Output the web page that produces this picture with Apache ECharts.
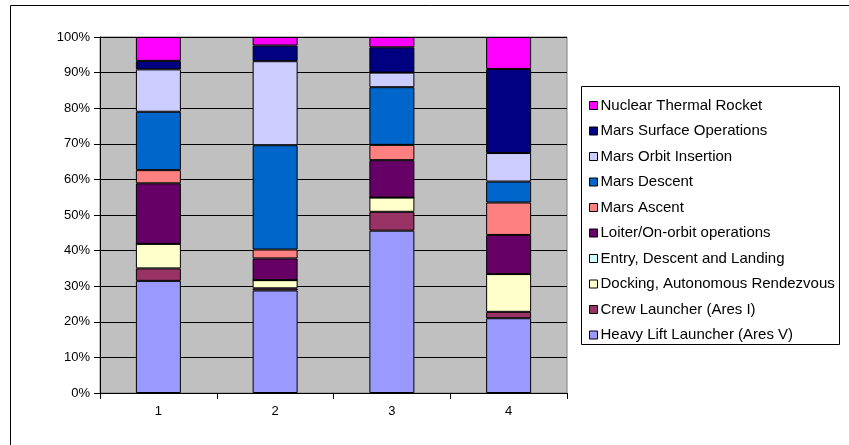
<!DOCTYPE html>
<html>
<head>
<meta charset="utf-8">
<script src="https://cdn.jsdelivr.net/npm/echarts@6/dist/echarts.min.js"></script>
<style>
  html, body { margin: 0; padding: 0; background: #fff; }
  #chart { width: 849px; height: 445px; }
</style>
</head>
<body>
<div id="chart"></div>
<script>
// Mission phases, 1..4, share of each technology area (percent)
const categories = ['1', '2', '3', '4'];

const heavyLift   = [31.5, 28.8, 45.6, 21.0];
const crewLaunch  = [3.5, 0.6, 5.3, 1.8];
const docking     = [6.9, 2.3, 4.0, 10.6];
const entryDescent = [0, 0, 0, 0];
const loiter      = [17.0, 6.1, 10.5, 11.0];
const marsAscent  = [3.7, 2.5, 4.3, 9.1];
const marsDescent = [16.4, 29.3, 16.2, 5.9];
const orbitInsert = [11.9, 23.6, 4.1, 8.0];
const surfaceOps  = [2.4, 4.4, 7.1, 23.6];
const nuclear     = [6.7, 2.4, 2.9, 9.0];

const yTicks = [0, 10, 20, 30, 40, 50, 60, 70, 80, 90, 100];

// stacked from the bottom up
const stackSeries = [
  { name: 'Heavy Lift Launcher (Ares V)', data: heavyLift, color: '#9999FF' },
  { name: 'Crew Launcher (Ares I)', data: crewLaunch, color: '#993366' },
  { name: 'Docking, Autonomous Rendezvous', data: docking, color: '#FFFFCC' },
  { name: 'Entry, Descent and Landing', data: entryDescent, color: '#CCFFFF' },
  { name: 'Loiter/On-orbit operations', data: loiter, color: '#660066' },
  { name: 'Mars Ascent', data: marsAscent, color: '#FF8080' },
  { name: 'Mars Descent', data: marsDescent, color: '#0066CC' },
  { name: 'Mars Orbit Insertion', data: orbitInsert, color: '#CCCCFF' },
  { name: 'Mars Surface Operations', data: surfaceOps, color: '#000080' },
  { name: 'Nuclear Thermal Rocket', data: nuclear, color: '#FF00FF' }
];

const chart = echarts.init(document.getElementById('chart'), null, { renderer: 'canvas' });

const font = 'Liberation Sans, Arial, sans-serif';

chart.setOption({
  animation: false,
  backgroundColor: '#ffffff',
  textStyle: { fontFamily: font },
  graphic: [
    // chart area frame
    { type: 'rect', silent: true, z: -10,
      shape: { x: 10.5, y: 5.5, width: 900, height: 500 },
      style: { fill: '#ffffff', stroke: '#000000', lineWidth: 1 } },
    // legend frame
    { type: 'rect', silent: true, z: 0,
      shape: { x: 581.5, y: 86.5, width: 258, height: 258 },
      style: { fill: '#ffffff', stroke: '#000000', lineWidth: 1 } }
  ],
  grid: {
    left: 100, top: 37, width: 467, height: 356,
    show: true, backgroundColor: '#C0C0C0', borderColor: '#808080', borderWidth: 1,
    containLabel: false
  },
  legend: {
    orient: 'vertical',
    left: 584, top: 92,
    itemWidth: 8, itemHeight: 8,
    itemGap: 8.5,
    icon: 'rect',
    data: stackSeries.slice().reverse().map(s => s.name),
    itemStyle: { borderColor: '#000', borderWidth: 1 },
    textStyle: { fontFamily: font, fontSize: 15, color: '#000', lineHeight: 17, padding: [0, 0, 0, -2] },
    z: 5
  },
  xAxis: {
    type: 'category',
    data: categories,
    boundaryGap: true,
    axisLine: { show: true, lineStyle: { color: '#000', width: 1 } },
    axisTick: { show: true, inside: false, length: 6, lineStyle: { color: '#000' } },
    axisLabel: { color: '#000', fontSize: 13, fontFamily: font, margin: 12 },
    splitLine: { show: false }
  },
  yAxis: {
    type: 'value',
    min: yTicks[0], max: yTicks[yTicks.length - 1], interval: 10,
    axisLine: { show: true, lineStyle: { color: '#000', width: 1 } },
    axisTick: { show: true, inside: false, length: 6, lineStyle: { color: '#000' } },
    axisLabel: { color: '#000', fontSize: 13, fontFamily: font, margin: 10, formatter: '{value}%' },
    splitLine: { show: true, lineStyle: { color: '#000', width: 1 } }
  },
  series: stackSeries.map(s => ({
    name: s.name,
    type: 'bar',
    stack: 'total',
    data: s.data,
    barWidth: 45,
    itemStyle: { color: s.color, borderColor: '#000', borderWidth: 1 },
    emphasis: { disabled: true }
  }))
});
</script>
</body>
</html>
